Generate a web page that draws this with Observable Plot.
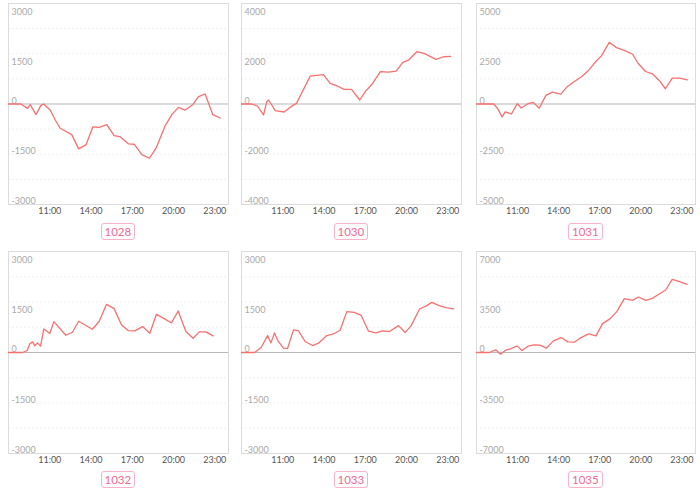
<!DOCTYPE html>
<html><head><meta charset="utf-8">
<script src="https://cdn.jsdelivr.net/npm/d3@7"></script>
<script src="https://cdn.jsdelivr.net/npm/@observablehq/plot@0.6"></script>
<style>
body{margin:0;background:#fff;font-family:Lato,"Noto Sans",sans-serif}
#root{position:relative;width:700px;height:495px;overflow:hidden;background:#fff}
.cell{position:absolute}
.tag{position:absolute;box-sizing:border-box;height:17px;padding:0 3px;border:1px solid #f8b3c8;border-radius:3px;color:#ef6a93;font-size:11.5px;line-height:15px;text-align:center;background:#fff}
</style></head>
<body><div id="root"></div>
<script>
const names = ["1028","1030","1031","1032","1033","1035"];
const limits = [3000,4000,5000,3000,3000,7000];
const xTicks = [11,14,17,20,23];
const xTickLabels = ["11:00","14:00","17:00","20:00","23:00"];

const t1028 = [8,8.9,9.38,9.58,10.0,10.35,10.55,11.03,11.4,11.76,12.6,13.1,13.65,14.13,14.6,15.15,15.68,16.1,16.73,17.14,17.7,18.25,18.74,19.4,19.88,20.36,20.85,21.4,21.82,22.3,22.86,23.4];
const v1028 = [0,0,-130,-20,-318,-50,0,-180,-477,-725,-914,-1340,-1211,-685,-695,-616,-943,-973,-1191,-1201,-1509,-1619,-1311,-645,-318,-99,-180,-20,218,298,-318,-417];

const t1030 = [8,8.75,9.16,9.6,9.84,9.96,10.2,10.45,11.1,11.6,12.0,13.0,13.96,14.45,14.98,15.46,16.0,16.6,17.0,17.5,18.1,18.7,19.25,19.73,20.15,20.75,21.28,22.15,22.7,23.2];
const v1030 = [0,0,-80,-437,93,159,-40,-265,-318,-106,26,1113,1166,821,715,583,583,159,490,795,1285,1272,1311,1656,1749,2080,2014,1775,1881,1895];

const t1031 = [8,9.26,9.55,9.87,10.1,10.55,10.98,11.27,11.76,12.15,12.58,13.07,13.55,14.16,14.6,15.15,15.7,16.2,16.65,17.14,17.7,18.23,18.84,19.4,19.8,20.35,20.85,21.35,21.8,22.3,22.85,23.4];
const v1031 = [0,0,-231,-644,-396,-495,16,-198,16,82,-214,429,594,495,841,1122,1370,1683,2062,2409,3069,2805,2656,2475,2029,1617,1501,1171,759,1287,1287,1204];

const t1032 = [8,9.02,9.36,9.55,9.75,9.92,10.1,10.33,10.57,11.0,11.3,12.17,12.65,13.1,14.1,14.6,15.13,15.68,16.22,16.7,17.19,17.75,18.28,18.76,19.32,19.85,20.34,20.9,21.43,21.87,22.35,22.88];
const v1032 = [0,0,59,257,316,197,286,188,701,563,918,513,602,928,691,928,1431,1303,819,651,642,770,572,1135,1007,878,1234,622,424,612,612,494];

const t1033 = [8,8.95,9.43,9.9,10.14,10.4,10.64,11.05,11.35,11.78,12.15,12.63,13.16,13.6,14.2,14.64,15.17,15.66,16.2,16.7,17.24,17.77,18.25,18.76,19.42,19.9,20.34,20.95,21.48,21.84,22.37,22.86,23.42];
const v1033 = [0,0,148,503,286,582,355,128,118,671,642,326,207,276,503,543,661,1214,1194,1105,632,582,642,622,799,592,799,1293,1392,1490,1392,1332,1293];

const t1035 = [8,8.92,9.4,9.75,10.13,10.55,10.96,11.32,11.76,12.2,12.65,13.1,13.62,14.18,14.67,15.15,15.64,16.19,16.73,17.21,17.77,18.25,18.8,19.4,19.83,20.36,20.85,21.38,21.82,22.3,22.83,23.39];
const v1035 = [0,0,184,-115,161,276,461,138,438,530,507,299,806,1036,737,714,1036,1290,1152,2004,2349,2833,3731,3616,3846,3616,3754,4076,4330,5067,4905,4722];

const times = [t1028,t1030,t1031,t1032,t1033,t1035];
const values = [v1028,v1030,v1031,v1032,v1033,v1035];

const cols = [[8,228],[241,461],[476,695]];
const rows = [[3,204],[251,453]];
const tagY = [231,479];

const root = document.getElementById("root");
names.forEach((name, i) => {
  const c = cols[i % 3], r = rows[Math.floor(i / 3)];
  const fw = c[1] - c[0], fh = r[1] - r[0];
  const m = limits[i];
  const data = times[i].map((t, k) => ({t, v: values[i][k]}));
  const grid = [-0.75,-0.5,-0.25,0.25,0.5,0.75].map(f => f * m);
  const yLab = [m, m/2, 0, -m/2, -m];
  const chart = Plot.plot({
    width: fw + 2, height: fh + 2 + 16,
    marginLeft: 1, marginRight: 1, marginTop: 1, marginBottom: 17,
    style: {fontFamily: "Lato, 'Noto Sans', sans-serif", background: "#fff", overflow: "visible"},
    x: {domain: [8, 24]},
    y: {domain: [-m, m], axis: null},
    marks: [
      Plot.ruleY(grid, {stroke: "#efefef", strokeDasharray: "2,2", strokeWidth: 1}),
      Plot.frame({stroke: "#dcdcdc"}),
      Plot.ruleY([0], {stroke: "#b8b8b8", strokeWidth: 1.2}),
      Plot.text(yLab, {x: 8, y: d => d, text: d => String(d), textAnchor: "start", dx: 3,
        fontSize: 9, fill: "#a9a9a9"}),
      Plot.line(data, {x: "t", y: "v", stroke: "#fb6f6f", strokeWidth: 1.3}),
      Plot.axisX(xTicks, {tickSize: 0, tickPadding: 3, fontSize: 9, label: null, color: "#555",
        tickFormat: d => xTickLabels[xTicks.indexOf(d)]})
    ]
  });
  // positive labels sit below their line, zero and negative labels above
  chart.querySelectorAll("g[aria-label='text'] text").forEach((el, k) => {
    const v = yLab[k];
    el.setAttribute("dy", v > 0 ? "0.95em" : "-0.35em");
  });
  const div = document.createElement("div");
  div.className = "cell";
  div.style.left = (c[0] - 1) + "px";
  div.style.top = (r[0] - 1) + "px";
  div.appendChild(chart);
  root.appendChild(div);
  const tag = document.createElement("div");
  tag.className = "tag";
  tag.textContent = name;
  root.appendChild(tag);
  const w = tag.offsetWidth;
  tag.style.left = ((c[0] + c[1]) / 2 - w / 2) + "px";
  tag.style.top = (tagY[Math.floor(i / 3)] - 8.5) + "px";
});
</script></body></html>
